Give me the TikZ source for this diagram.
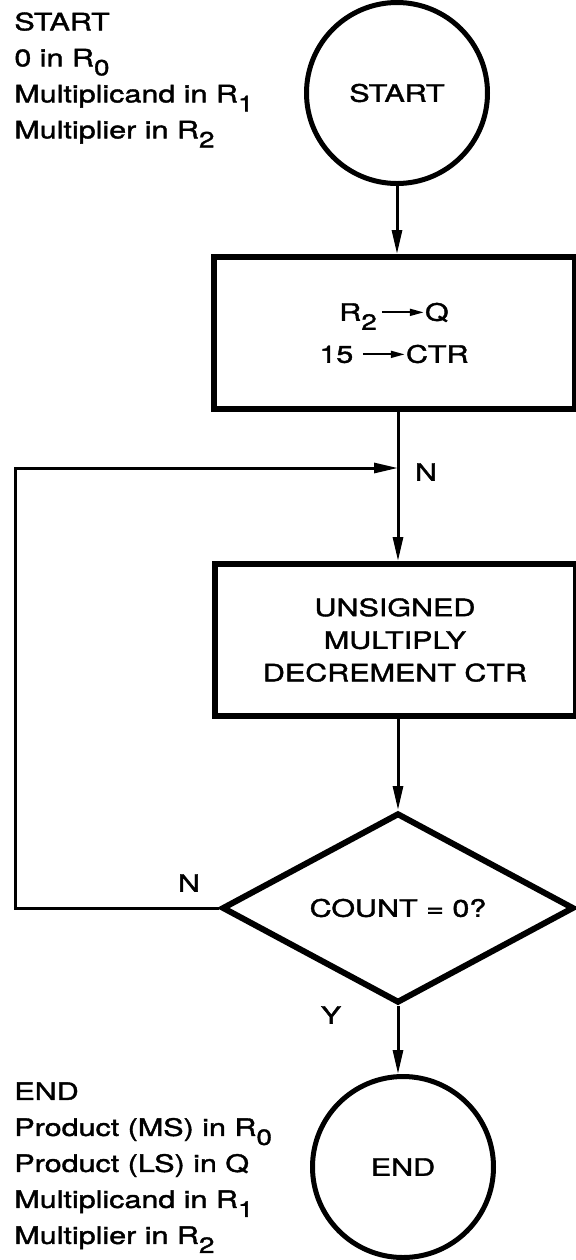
\documentclass[tikz,border=0pt]{standalone}
\usepackage{fontspec}
\setmainfont{TeX Gyre Heros}[FakeStretch=1.27, FakeBold=1.6]
\usetikzlibrary{arrows.meta,positioning,shapes.geometric}
\tikzset{
  >={Triangle[length=12pt,width=5pt]},
  termnode/.style={draw, circle, line width=2.5pt, minimum size=90.5pt, inner sep=0pt},
  procbox/.style={draw, line width=3pt, align=center, inner sep=0pt,
                  minimum width=180.5pt, minimum height=76pt},
  decnode/.style={draw, diamond, aspect=1.9, line width=3pt, inner sep=0pt,
                  minimum width=176pt, minimum height=95pt},
  arr/.style={->, line width=1.5pt},
  lbl/.style={inner sep=0pt},
  notes/.style={align=left, anchor=north west, inner sep=0pt},
}
\newcommand{\rsub}[1]{\raisebox{-4.5pt}{\fontsize{11}{11}\selectfont #1}}
\newcommand{\xfer}{\tikz[baseline=-4.2pt]\draw[line width=1.1pt,-{Triangle[length=7pt,width=3.4pt]}] (0pt,0pt) -- (21pt,0pt);}

\begin{document}
\begin{tikzpicture}[x=0.5pt, y=-0.5pt, font=\fontsize{12}{18}\selectfont]
    \useasboundingbox (0,0) rectangle (576,1260);
    \node[termnode] (start) at (397,93) {START};
    \node[procbox] (init) at (394,333) {R\rsub{2}\,\xfer Q\\[3pt]15 \xfer CTR};
    \node[procbox] (mult) at (395,640)
      {UNSIGNED\\[-1.7pt]MULTIPLY\\[-1.7pt]DECREMENT CTR};
    \node[decnode] (test) at (398,908) {COUNT = 0?};
    \node[termnode] (stop) at (403,1167) {END};
    \coordinate (merge) at (398,468);
    \coordinate (back) at (15,468);
    \node[notes] (startnote) at (14,12)
      {START\\0 in R\rsub{0}\\Multiplicand in R\rsub{1}\\Multiplier in R\rsub{2}};
    \node[notes] (endnote) at (14,1082)
      {END\\Product (MS) in R\rsub{0}\\Product (LS) in Q\\Multiplicand in R\rsub{1}\\Multiplier in R\rsub{2}};
    \node[lbl] (nmerge) at (426,472) {N};
    \node[lbl] (nloop) at (189,883) {N};
    \node[lbl] (yes) at (331,1015) {Y};
    \draw[arr] (start.south) -- (start.south |- init.north);
    \draw[arr] (init.south -| merge) -- (mult.north -| merge);
    \draw[arr] (mult.south -| test) -- (test.north);
    \draw[arr] (test.west) -| (back) -- (merge);
    \draw[arr] (test.south) -- (test.south |- stop.north);
\end{tikzpicture}
\end{document}
